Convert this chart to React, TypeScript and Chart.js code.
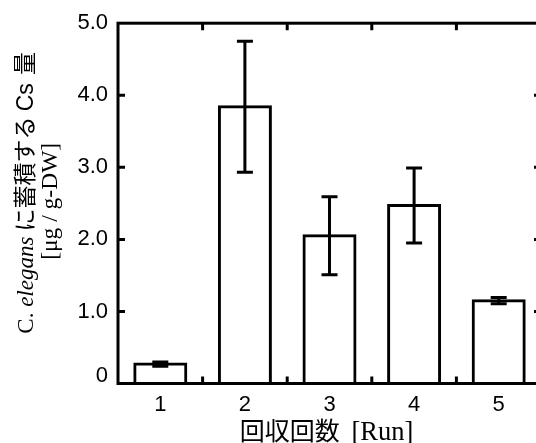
import { useEffect, useRef } from 'react';
import { Chart, registerables } from 'chart.js';

Chart.register(...registerables);

// ---- data ----
const categories = ['1', '2', '3', '4', '5'];
const values = [0.27, 3.84, 2.05, 2.47, 1.15];
const errors = [0.03, 0.91, 0.54, 0.52, 0.045];
const yTickValues = [0, 1, 2, 3, 4, 5];
const yTickLabels = ['0', '1.0', '2.0', '3.0', '4.0', '5.0'];
const xTitleMain = '回収回数';
const xTitleUnit = '[Run]';
const yTitlePrefix = 'C. ';
const yTitleItalic = 'elegans';
const yTitleMiddle = ' に蓄積する ';
const yTitleCs = 'Cs';
const yTitleEnd = ' 量';
const yTitleUnit = '[μg / g-DW]';

const SANS = '"Liberation Sans", Arial, Helvetica, sans-serif';
const SERIF = '"Liberation Serif", "Times New Roman", serif';
const CJK = '"Noto Sans CJK JP", "Noto Sans CJK SC", sans-serif';

type Seg = { text: string; font: string; gapBefore?: number };

function measureSegs(ctx: CanvasRenderingContext2D, segs: Seg[]) {
  const widths = segs.map((s) => {
    ctx.font = s.font;
    return ctx.measureText(s.text).width + (s.gapBefore || 0);
  });
  return { widths, total: widths.reduce((a, b) => a + b, 0) };
}

function drawSegs(ctx: CanvasRenderingContext2D, segs: Seg[], startX: number, baseY: number) {
  const { widths } = measureSegs(ctx, segs);
  let xx = startX;
  segs.forEach((s, i) => {
    ctx.font = s.font;
    ctx.fillText(s.text, xx + (s.gapBefore || 0), baseY);
    xx += widths[i];
  });
}

export default function App() {
  const ref = useRef<HTMLCanvasElement>(null);

  useEffect(() => {
    const canvas = ref.current;
    if (!canvas) return;

    const drawRotated = (ctx: CanvasRenderingContext2D, segs: Seg[], baselineX: number, centerY: number) => {
      ctx.save();
      ctx.translate(baselineX, centerY);
      ctx.rotate(-Math.PI / 2);
      ctx.textBaseline = 'alphabetic';
      ctx.textAlign = 'left';
      ctx.fillStyle = '#000';
      const { total } = measureSegs(ctx, segs);
      drawSegs(ctx, segs, -total / 2, 0);
      ctx.restore();
    };

    const framePlugin = {
      id: 'framePlugin',
      afterDatasetsDraw(chart: any) {
        const { ctx, chartArea, scales } = chart;
        const { left, right, top, bottom } = chartArea;
        const x = scales.x;
        const y = scales.y;
        ctx.save();
        ctx.strokeStyle = '#000';
        ctx.lineWidth = 3;
        ctx.lineCap = 'butt';

        // error bars
        const meta = chart.getDatasetMeta(0);
        values.forEach((v, i) => {
          const px = meta.data[i].x;
          const yHi = y.getPixelForValue(v + errors[i]);
          const yLo = y.getPixelForValue(v - errors[i]);
          ctx.beginPath();
          ctx.moveTo(px, yHi);
          ctx.lineTo(px, yLo);
          ctx.moveTo(px - 8, yHi);
          ctx.lineTo(px + 8, yHi);
          ctx.moveTo(px - 8, yLo);
          ctx.lineTo(px + 8, yLo);
          ctx.stroke();
        });

        // frame
        ctx.strokeRect(left, top, right - left, bottom - top);

        // inward ticks
        const tl = 7;
        ctx.beginPath();
        yTickValues.slice(1, -1).forEach((v) => {
          const py = y.getPixelForValue(v);
          ctx.moveTo(left, py);
          ctx.lineTo(left + tl, py);
          ctx.moveTo(right, py);
          ctx.lineTo(right - tl, py);
        });
        for (let i = 0; i < categories.length - 1; i++) {
          const bx = (x.getPixelForValue(i) + x.getPixelForValue(i + 1)) / 2;
          ctx.moveTo(bx, top);
          ctx.lineTo(bx, top + tl);
          ctx.moveTo(bx, bottom);
          ctx.lineTo(bx, bottom - tl);
        }
        ctx.stroke();
        ctx.restore();

        // y title
        const midY = (top + bottom) / 2;
        drawRotated(
          ctx,
          [
            { text: yTitlePrefix, font: `23px ${SERIF}` },
            { text: yTitleItalic, font: `italic 23px ${SERIF}` },
            { text: yTitleMiddle, font: `23px ${CJK}` },
            { text: yTitleCs, font: `23px ${SANS}` },
            { text: yTitleEnd, font: `23px ${CJK}`, gapBefore: 3 },
          ],
          33,
          midY - 10.5
        );
        drawRotated(ctx, [{ text: yTitleUnit, font: `23.5px ${SERIF}` }], 57, midY - 2);

        // x title
        const xSegs: Seg[] = [
          { text: xTitleMain, font: `25px ${CJK}` },
          { text: ' ' + xTitleUnit, font: `26.5px ${SERIF}`, gapBefore: 5 },
        ];
        ctx.save();
        ctx.fillStyle = '#000';
        ctx.textBaseline = 'alphabetic';
        ctx.textAlign = 'left';
        const { total } = measureSegs(ctx, xSegs);
        drawSegs(ctx, xSegs, (left + right) / 2 - 3 - total / 2, 439.5);
        ctx.restore();
      },
    };

    const chart = new Chart(canvas, {
      type: 'bar',
      data: {
        labels: categories,
        datasets: [
          {
            data: values,
            backgroundColor: '#fff',
            borderColor: '#000',
            borderWidth: 3,
            borderSkipped: false,
            inflateAmount: 1.5,
            barPercentage: 0.603,
            categoryPercentage: 1,
          } as any,
        ],
      },
      options: {
        responsive: false,
        animation: false,
        devicePixelRatio: 1,
        layout: { padding: { left: 0, right: 4, top: 19.5, bottom: 0 } },
        plugins: {
          legend: { display: false },
          tooltip: { enabled: false },
        },
        scales: {
          x: {
            grid: { display: false, drawTicks: false },
            border: { display: false },
            ticks: {
              color: '#000',
              padding: 8,
              font: { family: SANS, size: 22 },
            },
            afterFit: (scale: any) => {
              scale.height = 59.5;
            },
          },
          y: {
            min: 0,
            max: 5,
            grid: { display: false, drawTicks: false },
            border: { display: false },
            ticks: {
              stepSize: 1,
              color: '#000',
              padding: 10,
              font: (ctx: any) =>
                ctx.index === 0
                  ? { family: SANS, size: 22, lineHeight: '16px' }
                  : { family: SANS, size: 22 },
              callback: (v: any) => {
                const idx = yTickValues.indexOf(Number(v));
                const label = idx >= 0 ? yTickLabels[idx] : '';
                return Number(v) === 0 ? [label, ''] : label;
              },
            },
            afterFit: (scale: any) => {
              scale.width = 118;
            },
          },
        },
      } as any,
      plugins: [framePlugin],
    });

    return () => {
      chart.destroy();
    };
  }, []);

  return (
    <div
      style={{
        position: 'fixed',
        left: 0,
        top: 0,
        width: 536,
        height: 443,
        overflow: 'hidden',
        background: '#fff',
      }}
    >
      <canvas ref={ref} width={545} height={443} style={{ display: 'block' }} />
    </div>
  );
}
